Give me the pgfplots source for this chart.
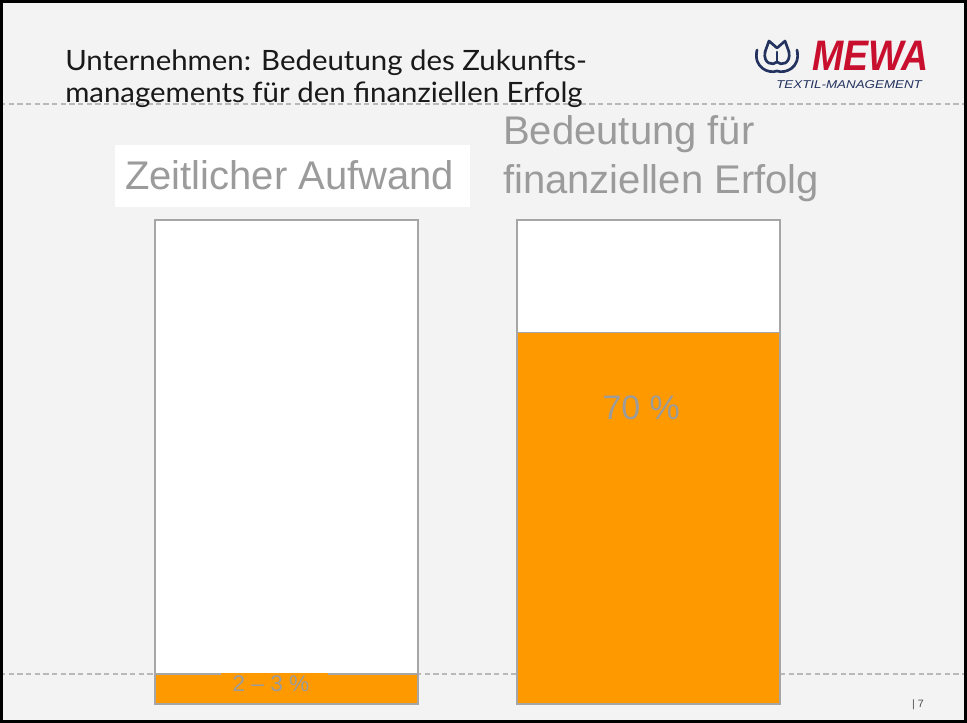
\documentclass[border=0pt]{standalone}
\usepackage{pgfplots}
\pgfplotsset{compat=1.18}
\usepackage{pgfplotstable}
\usepackage{fontspec}
\setmainfont{Liberation Sans}
\newfontfamily\titlefont{Lato}
\definecolor{barorange}{RGB}{255,153,0}
\definecolor{bargrey}{RGB}{166,166,166}
\definecolor{txtgrey}{RGB}{155,155,155}
\definecolor{bg}{RGB}{243,243,243}
\definecolor{mewared}{RGB}{200,16,46}
\definecolor{mewablue}{RGB}{35,50,95}
\definecolor{stitch}{RGB}{185,185,185}

\pgfplotstableread{
x orange rest
0 6.2 93.8
1 76.7 23.3
}\bars

\begin{document}
\begin{tikzpicture}
\begin{scope}[x=0.75pt,y=0.75pt]
\useasboundingbox (0,0) rectangle (967,723);
\fill[bg] (0,0) rectangle (967,723);
\draw[stitch, line width=0.9pt, dash pattern=on 4pt off 2.5pt] (0,619) -- (967,619);
\draw[stitch, line width=0.9pt, dash pattern=on 4pt off 2.5pt] (0,49) -- (967,49);
\fill[white] (115,516) rectangle (470,578);
\end{scope}

\begin{axis}[at={(79.125pt,14.25pt)}, anchor=south west, scale only axis,
  width=543pt, height=363pt, xmin=-0.5, xmax=1.5, ymin=0, ymax=100,
  axis lines=none, ybar stacked, bar width=0.727, clip=false]
\addplot[fill=barorange, draw=bargrey, line width=1pt] table[x=x,y=orange]{\bars};
\addplot[fill=white, draw=bargrey, line width=1pt] table[x=x,y=rest]{\bars};
\coordinate (c1a) at (axis cs:-0.18,5.9);
\coordinate (c1b) at (axis cs:0.115,6.42);
\coordinate (l1) at (axis cs:-0.043,4.1);
\coordinate (l2) at (axis cs:0.98,61.2);
\end{axis}
\fill[barorange] (c1a) rectangle (c1b);
\node[txtgrey, font=\fontsize{17}{20}\selectfont] at (l1) {2 -- 3 \%};
\node[txtgrey, font=\fontsize{25.5}{30}\selectfont] at (l2) {70 \%};

\begin{scope}[x=0.75pt,y=0.75pt]
\node[anchor=base west, inner sep=0, txtgrey, font=\fontsize{30}{36}\selectfont] at (125,533) {Zeitlicher Aufwand};
\node[anchor=base west, inner sep=0, txtgrey, font=\fontsize{30}{36}\selectfont] at (503,578) {Bedeutung für};
\node[anchor=base west, inner sep=0, txtgrey, font=\fontsize{30}{36}\selectfont] at (503,529) {finanziellen Erfolg};

\node[anchor=base west, inner sep=0, black!90, font=\titlefont\fontsize{21}{24}\selectfont] at (65,652) {\scalebox{1.05}[1]{Unternehmen: Bedeutung des Zukunfts-}};
\node[anchor=base west, inner sep=0, black!90, font=\titlefont\fontsize{21}{24}\selectfont] at (65,620) {\scalebox{1.05}[1]{managements für den finanziellen Erfolg}};

\node[anchor=base west, inner sep=0, mewared, font=\fontsize{32}{36}\selectfont\bfseries\itshape] at (812,652) {\scalebox{0.88}[1]{MEWA}};
\node[anchor=base west, inner sep=0, mewablue, font=\fontsize{8.5}{10}\selectfont\itshape] at (776,634) {\scalebox{1.18}[1]{TEXTIL-MANAGEMENT}};

\begin{scope}[shift={(777,667)}, mewablue, line width=2pt, line cap=round, line join=round]
\draw (-12,4) -- (-8,15) -- (0,8) -- (8,15) -- (12,4);
\draw (-20,6) .. controls (-24,-12) and (-8,-18) .. (0,-15) .. controls (8,-18) and (24,-12) .. (20,6);
\draw (-12,4) .. controls (-14,-8) and (-4,-10) .. (0,-6) .. controls (4,-10) and (14,-8) .. (12,4);
\draw (0,-6) -- (0,4);
\end{scope}

\node[anchor=base, inner sep=0, black!70, font=\fontsize{8}{10}\selectfont] at (918,15) {| 7};

\draw[black, line width=2.25pt] (1.5,1.5) rectangle (965.5,721.5);
\end{scope}
\end{tikzpicture}
\end{document}
